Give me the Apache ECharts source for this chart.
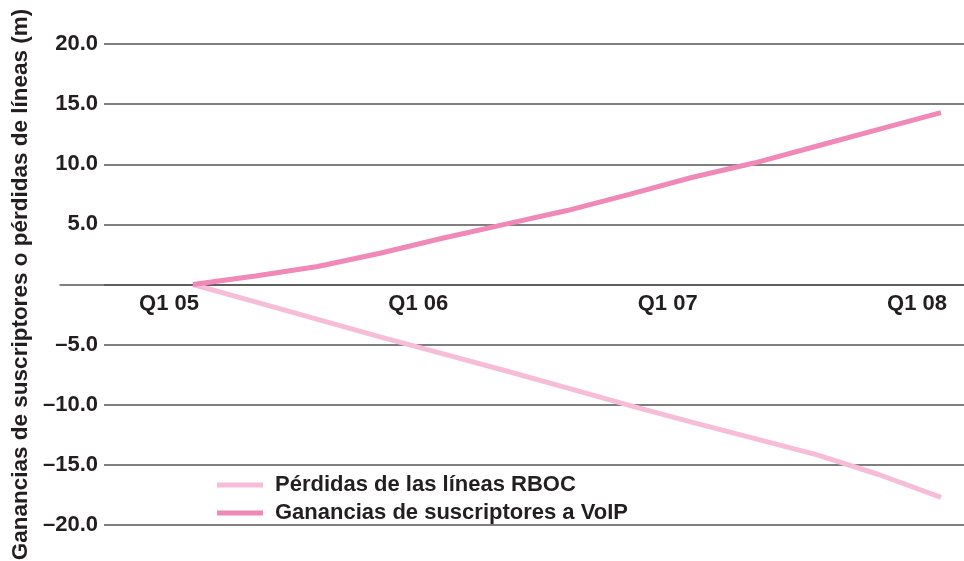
<!DOCTYPE html>
<html>
<head>
<meta charset="utf-8">
<script src="https://cdn.jsdelivr.net/npm/echarts@6/dist/echarts.min.js"></script>
<style>
  html, body { margin: 0; padding: 0; background: #ffffff; }
  #chart { width: 964px; height: 561px; }
</style>
</head>
<body>
<div id="chart"></div>
<script>
// Quarterly series, Q1 05 through Q1 08 (millions)
const quarters = ['Q1 05', 'Q2 05', 'Q3 05', 'Q4 05',
                  'Q1 06', 'Q2 06', 'Q3 06', 'Q4 06',
                  'Q1 07', 'Q2 07', 'Q3 07', 'Q4 07',
                  'Q1 08'];
const rbocLosses = [0, -1.45, -2.9, -4.35, -5.75, -7.15, -8.6, -10.05, -11.45, -12.8, -14.15, -15.8, -17.7];
const voipGains  = [0, 0.7, 1.5, 2.6, 3.85, 5.0, 6.15, 7.5, 8.9, 10.1, 11.5, 12.9, 14.3];
const seriesNames = ['Pérdidas de las líneas RBOC', 'Ganancias de suscriptores a VoIP'];
const yAxisTitle = 'Ganancias de suscriptores o pérdidas de líneas (m)';

const FONT = '"Liberation Sans", Arial, Helvetica, sans-serif';
const INK = '#231f20';
const RULE = '#555555';
const Y_MIN = -20, Y_MAX = 20, Y_STEP = 5;

// plot frame in pixels
const TOP = 44, BOTTOM = 36, H = 561;
const ZERO_Y = TOP + (H - TOP - BOTTOM) * Y_MAX / (Y_MAX - Y_MIN);
const SERIES_LEFT = 193, SERIES_RIGHT = 23;

const chart = echarts.init(document.getElementById('chart'), null, { renderer: 'canvas' });

const fmtY = v => v === 0 ? '' : (v < 0 ? '\u2013' + Math.abs(v).toFixed(1) : v.toFixed(1));

// value axis that only provides the scale for its grid
const scaleOnlyY = idx => ({
  gridIndex: idx, type: 'value', min: Y_MIN, max: Y_MAX, interval: Y_STEP,
  axisLine: { show: false }, axisTick: { show: false },
  axisLabel: { show: false }, splitLine: { show: false }
});

const fixedGrid = (left, right, top, bottom) => ({
  left, right, top, bottom, containLabel: false, outerBoundsMode: 'none'
});

chart.setOption({
  animation: false,
  backgroundColor: '#ffffff',
  textStyle: { fontFamily: FONT },
  grid: [
    fixedGrid(104, 0, TOP, BOTTOM),                         // value rules
    fixedGrid(60, 0, TOP, BOTTOM),                          // zero baseline
    fixedGrid(SERIES_LEFT, SERIES_RIGHT, TOP, BOTTOM),      // plotted series
    fixedGrid(SERIES_LEFT, SERIES_RIGHT, TOP, H - ZERO_Y)   // quarter labels under the zero line
  ],
  xAxis: [
    { gridIndex: 0, type: 'value', min: 0, max: 1, show: false },
    {
      gridIndex: 1, type: 'value', min: 0, max: 1,
      axisLine: { show: true, onZero: true, lineStyle: { color: RULE, width: 1.5 } },
      axisTick: { show: false }, axisLabel: { show: false }, splitLine: { show: false }
    },
    {
      gridIndex: 2, type: 'category', data: quarters, boundaryGap: false,
      axisLine: { show: false }, axisTick: { show: false },
      axisLabel: { show: false }, splitLine: { show: false }
    },
    {
      gridIndex: 3, type: 'category', data: quarters, boundaryGap: false,
      position: 'bottom',
      axisLine: { show: false, onZero: false },
      axisTick: { show: false },
      splitLine: { show: false },
      axisLabel: {
        interval: 3,
        margin: 8,
        color: INK, fontFamily: FONT, fontWeight: 'bold', fontSize: 22,
        align: 'center',
        padding: [0, 48, 0, 0]
      }
    }
  ],
  yAxis: [
    {
      gridIndex: 0, type: 'value', min: Y_MIN, max: Y_MAX, interval: Y_STEP,
      axisLine: { show: false }, axisTick: { show: false },
      axisLabel: {
        formatter: fmtY, margin: 6,
        color: INK, fontFamily: FONT, fontWeight: 'bold', fontSize: 22
      },
      splitLine: { show: true, lineStyle: { color: RULE, width: 1.5 } },
      name: yAxisTitle,
      nameLocation: 'middle',
      nameRotate: 90,
      nameGap: 70,
      nameTextStyle: { color: INK, fontFamily: FONT, fontWeight: 'bold', fontSize: 22.5 }
    },
    scaleOnlyY(1),
    scaleOnlyY(2),
    { gridIndex: 3, type: 'value', min: 0, max: Y_MAX, show: false }
  ],
  legend: {
    orient: 'vertical',
    left: 217, top: 474,
    padding: 0,
    itemWidth: 46, itemHeight: 5, itemGap: 6,
    icon: 'rect',
    data: seriesNames,
    textStyle: {
      color: INK, fontFamily: FONT, fontWeight: 'bold', fontSize: 22,
      lineHeight: 22, padding: [0, 0, 0, 7]
    }
  },
  series: [
    {
      name: seriesNames[0], type: 'line', xAxisIndex: 2, yAxisIndex: 2,
      data: rbocLosses, showSymbol: false, symbol: 'none',
      lineStyle: { color: '#f7bdd8', width: 5 }, itemStyle: { color: '#f7bdd8' }
    },
    {
      name: seriesNames[1], type: 'line', xAxisIndex: 2, yAxisIndex: 2,
      data: voipGains, showSymbol: false, symbol: 'none',
      lineStyle: { color: '#f088b8', width: 5 }, itemStyle: { color: '#f088b8' }
    }
  ]
});
</script>
</body>
</html>
